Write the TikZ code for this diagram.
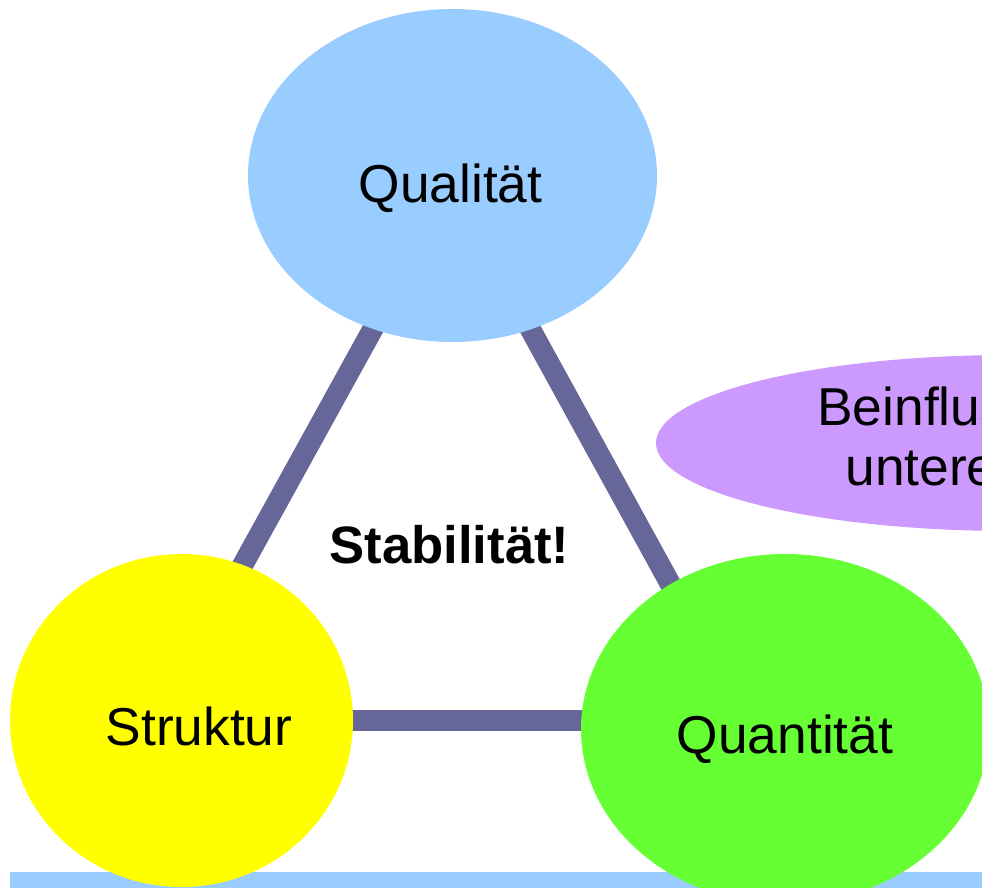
\documentclass[tikz,border=0pt]{standalone}
\usepackage{fontspec}
\setmainfont{Liberation Sans}
\usetikzlibrary{shapes.geometric,backgrounds}
\definecolor{qblue}{HTML}{99CCFF}
\definecolor{syellow}{HTML}{FFFF00}
\definecolor{qgreen}{HTML}{66FF33}
\definecolor{bpurple}{HTML}{CC99FF}
\definecolor{linkc}{HTML}{666699}
\tikzset{
  blob/.style={ellipse, draw=none, inner sep=0pt},
  lbl/.style={anchor=base, inner sep=0pt, font=\fontsize{40}{46}\selectfont},
  link/.style={draw=linkc, line width=15.75pt},
}
\begin{document}
\begin{tikzpicture}[x=0.75pt,y=-0.75pt]
\useasboundingbox (0,0) rectangle (982,888);
\clip (0,0) rectangle (982,888);
% ellipses
\node[blob, fill=qblue, minimum width=306.75pt, minimum height=249.75pt] (qual) at (452.5,175.5) {};
\node[blob, fill=syellow, minimum width=257.25pt, minimum height=249.75pt] (strukt) at (181.5,720.5) {};
\node[blob, fill=qgreen, minimum width=306pt, minimum height=262.5pt] (quant) at (785,729) {};
\node[blob, fill=bpurple, minimum width=531pt, minimum height=132pt] (bein) at (1010,443) {};
% labels
\node[lbl] (tqual) at (450.5,203) {Qualität};
\node[lbl] (tstrukt) at (199,745) {Struktur};
\node[lbl] (tquant) at (785,753) {Quantität};
\node[lbl, font=\fontsize{39.5}{45}\selectfont\bfseries] (tstab) at (449.5,563) {Stabilität!};
\node[lbl] (tbein1) at (1010,425) {Beinflussen sich};
\node[lbl] (tbein2) at (1010,485) {untereinander};
% background: bar and connectors
\begin{pgfonlayer}{background}
\fill[qblue] (10,872) rectangle (1000,900);
\draw[link] ([xshift=3.75pt]qual.center) -- ([xshift=-18.4pt]strukt.center);
\draw[link] ([xshift=-4.9pt]qual.center) -- ([xshift=-26.25pt]quant.center);
\draw[link] (strukt.center) -- (strukt.center -| quant.center);
\end{pgfonlayer}
\end{tikzpicture}
\end{document}
